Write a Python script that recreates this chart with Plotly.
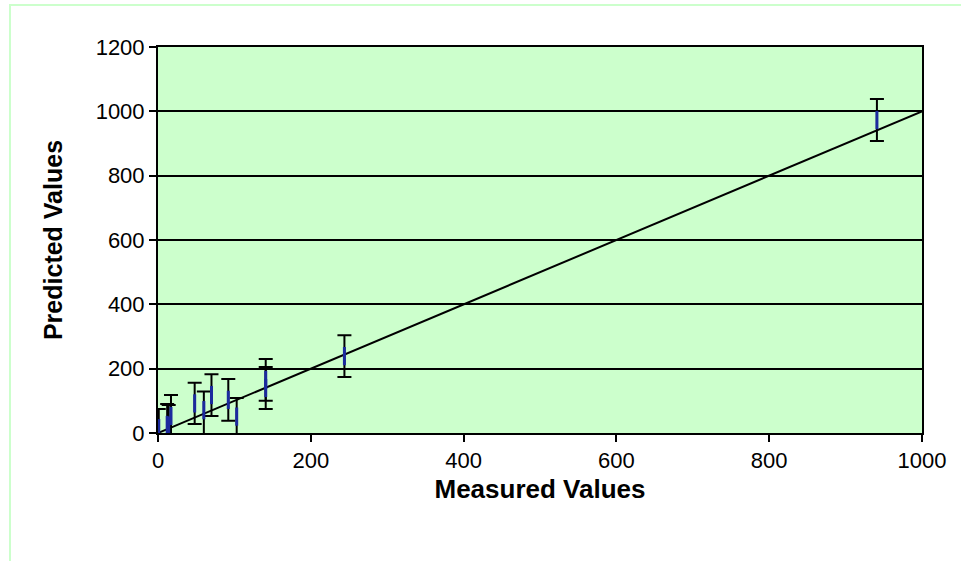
import plotly.graph_objects as go

measured = [1, 12, 14, 17, 48, 60, 70, 92, 103, 141, 141, 244, 941]
predicted = [15, 25, 22, 53, 92, 71, 118, 103, 51, 165, 140, 239, 973]
err_plus = [60, 65, 65, 65, 64, 58, 65, 65, 58, 65, 65, 65, 65]
err_minus = [60, 65, 65, 65, 64, 96, 65, 65, 75, 65, 65, 65, 65]
line_x = [0, 1000]
line_y = [0, 1000]

x_ticks = [0, 200, 400, 600, 800, 1000]
y_ticks = [0, 200, 400, 600, 800, 1000, 1200]

W, H = 961, 561
L, R, T, B = 158, 39, 47, 128
pw, ph = W - L - R, H - T - B

def px2paper_x(px):
    return (px - L) / pw

def px2paper_y(py):
    return (H - B - py) / ph

fig = go.Figure()

fig.add_trace(go.Scatter(
    x=line_x, y=line_y, mode="lines",
    line=dict(color="black", width=2),
    hoverinfo="skip", showlegend=False,
))

fig.add_trace(go.Scatter(
    x=measured, y=predicted, mode="markers",
    marker=dict(symbol="line-ns", size=13,
                line=dict(color="#1c2a9e", width=3), color="#1c2a9e"),
    error_y=dict(type="data", symmetric=False, array=err_plus,
                 arrayminus=err_minus, color="black", thickness=2, width=7),
    showlegend=False,
))

fig.add_shape(type="rect", xref="paper", yref="paper",
              x0=px2paper_x(10), x1=px2paper_x(1100),
              y0=px2paper_y(700), y1=px2paper_y(5),
              line=dict(color="#ccffcc", width=2), fillcolor="rgba(0,0,0,0)",
              layer="below")

font_family = "Liberation Sans, Arial, sans-serif"

fig.update_layout(
    width=W, height=H,
    margin=dict(l=L, r=R, t=T, b=B),
    paper_bgcolor="white",
    plot_bgcolor="#ccffcc",
    font=dict(family=font_family, color="black", size=22),
    xaxis=dict(
        range=[0, 1000], tickvals=x_ticks, ticktext=[str(v) for v in x_ticks],
        showgrid=False, zeroline=False,
        showline=True, linecolor="black", linewidth=2, mirror=True,
        ticks="outside", ticklen=7, tickwidth=2, tickcolor="black",
        tickfont=dict(size=22),
        title=dict(text="<b>Measured Values</b>", font=dict(size=26), standoff=7),
    ),
    yaxis=dict(
        range=[0, 1200], tickvals=y_ticks, ticktext=[str(v) for v in y_ticks],
        showgrid=True, gridcolor="black", gridwidth=1.5, zeroline=False,
        showline=True, linecolor="black", linewidth=2, mirror=True,
        ticks="outside", ticklen=7, tickwidth=2, tickcolor="black",
        tickfont=dict(size=22),
        title=dict(text="<b>Predicted Values</b>", font=dict(size=25), standoff=26),
    ),
)

fig.write_html("out.html", config={"displayModeBar": False},
               post_script="document.body.style.margin='0';")
